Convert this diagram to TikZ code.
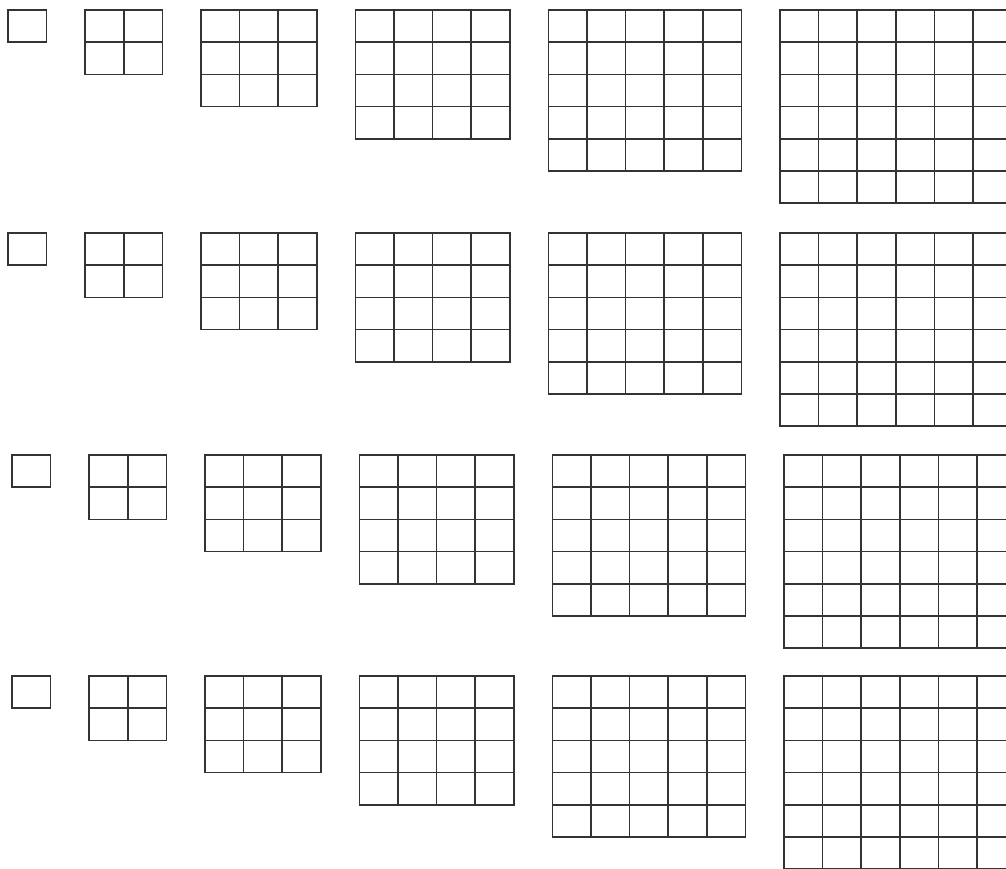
\documentclass[tikz,border=0pt]{standalone}
\usepackage{tikz}

\begin{document}
\begin{tikzpicture}[x=1pt, y=-1pt,
    gridline/.style={line width=1.5pt, draw=black!80, line cap=rect}]

    % Page frame, cut at the right and bottom edges
    \useasboundingbox (0,0) rectangle (1006,869);
    \clip (0,0) rectangle (1006,869);
    \fill[white] (0,0) rectangle (1006,869);
    % Four rows of square grids, n x n for n = 1..6, one cell apart
    \foreach \rowy/\xoff in {10/8, 233/8, 455/12, 676/12} {
      \foreach \n/\k in {1/0, 2/2, 3/5, 4/9, 5/14, 6/20} {
        \pgfmathsetmacro{\gx}{\xoff+\k*38.6}
        \foreach \i in {0,...,\n} {
          \draw[gridline] (\gx+\i*38.6, \rowy) -- (\gx+\i*38.6, \rowy+\n*32.2);
          \draw[gridline] (\gx, \rowy+\i*32.2) -- (\gx+\n*38.6, \rowy+\i*32.2);
        }
      }
    }
\end{tikzpicture}
\end{document}
